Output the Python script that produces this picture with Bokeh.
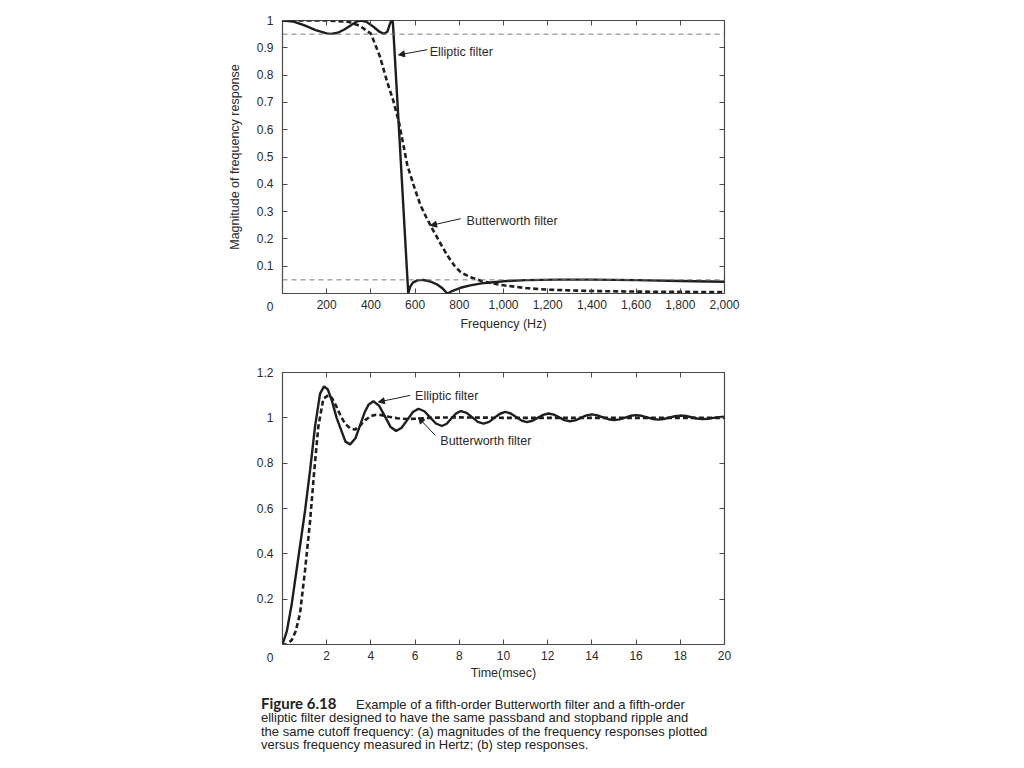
from bokeh.plotting import figure
from bokeh.models import (FixedTicker, NumeralTickFormatter, CustomJSTickFormatter, LinearAxis,
                          Span, Label, Arrow, NormalHead, Div, Range1d)
from bokeh.layouts import column
from bokeh.embed import file_html
from bokeh.resources import INLINE

# ---------------- data ----------------
# (a) magnitude of frequency response
freq_butter = [0, 100, 200, 300, 350, 400, 440, 474, 500, 527, 565, 600, 625, 650, 678, 710, 746,
               780, 806, 850, 900, 950, 1000, 1100, 1200, 1400, 1600, 1800, 2000]
mag_butter = [1.0, 1.0, 1.0, 0.995, 0.98, 0.952, 0.87, 0.774, 0.71, 0.627, 0.469, 0.38, 0.322, 0.28,
              0.237, 0.19, 0.139, 0.1, 0.078, 0.06, 0.046, 0.037, 0.03, 0.02, 0.014, 0.009, 0.007,
              0.006, 0.005]

freq_ellip = [0, 50, 100, 150, 200, 220, 250, 280, 310, 335, 355, 380, 410, 440, 460, 475, 485, 493,
              499, 530, 569, 578, 590, 610, 635, 665, 700, 725, 746, 770, 806, 850, 900, 1000, 1100,
              1250, 1400, 1600, 1800, 2000]
mag_ellip = [1.0, 0.996, 0.982, 0.965, 0.953, 0.951, 0.955, 0.967, 0.983, 0.996, 1.0, 0.995, 0.978,
             0.958, 0.951, 0.96, 0.985, 1.0, 1.0, 0.56, 0.0, 0.025, 0.04, 0.048, 0.05, 0.045, 0.033,
             0.018, 0.0, 0.01, 0.021, 0.03, 0.037, 0.045, 0.049, 0.051, 0.051, 0.049, 0.046, 0.043]

ripple_levels = [0.95, 0.05]

freq_ticks = [200, 400, 600, 800, 1000, 1200, 1400, 1600, 1800, 2000]
mag_ticks = [0, 0.1, 0.2, 0.3, 0.4, 0.5, 0.6, 0.7, 0.8, 0.9, 1]

# (b) step responses
t_ellip = [0, 0.2, 0.42, 0.72, 1.02, 1.25, 1.47, 1.7, 1.88, 2.05, 2.23, 2.45, 2.6, 2.85, 3.06, 3.3,
           3.51, 3.7, 3.89, 4.11, 4.37, 4.63, 4.88, 5.14, 5.39, 5.65, 5.9, 6.15, 6.42, 6.68, 6.94,
           7.21, 7.43, 7.64, 7.86, 8.07, 8.33, 8.59, 8.84, 9.1, 9.35, 9.59, 9.84, 10.08, 10.33,
           10.57, 10.82, 11.06, 11.31, 11.55, 11.8, 12.04, 12.28, 12.52, 12.76, 13.0, 13.25, 13.5,
           13.75, 14.0, 14.25, 14.5, 14.75, 15.0, 15.25, 15.5, 15.75, 16.0, 16.25, 16.5, 16.75,
           17.0, 17.25, 17.5, 17.75, 18.0, 18.25, 18.5, 18.75, 19.0, 19.25, 19.5, 19.75, 20.0]
step_ellip = [0, 0.06, 0.18, 0.385, 0.59, 0.77, 0.96, 1.107, 1.139, 1.125, 1.077, 1.0, 0.96, 0.895,
              0.883, 0.91, 0.967, 1.02, 1.058, 1.073, 1.054, 1.0075, 0.961, 0.942, 0.956, 0.991,
              1.026, 1.04, 1.029, 1.002, 0.975, 0.964, 0.974, 0.997, 1.02, 1.03, 1.022, 1.002,
              0.982, 0.974, 0.982, 1.0, 1.018, 1.026, 1.019, 1.0035, 0.988, 0.981, 0.987, 1.0,
              1.013, 1.019, 1.014, 1.002, 0.99, 0.985, 0.989, 1.0, 1.011, 1.015, 1.011, 1.0025,
              0.994, 0.99, 0.993, 1.001, 1.009, 1.012, 1.009, 1.002, 0.995, 0.992, 0.995, 1.001,
              1.007, 1.01, 1.008, 1.0025, 0.997, 0.995, 0.996, 1.0, 1.003, 1.005]

t_butter = [0, 0.2, 0.42, 0.6, 0.79, 1.02, 1.25, 1.44, 1.62, 1.85, 2.08, 2.25, 2.45, 2.65, 2.83,
            3.05, 3.28, 3.5, 3.74, 4.0, 4.19, 4.5, 4.8, 5.2, 5.6, 6.0, 6.5, 7.0, 8.0, 9.0, 10.0,
            12.0, 14.0, 16.0, 18.0, 20.0]
step_butter = [0, 0.0, 0.02, 0.06, 0.135, 0.327, 0.547, 0.77, 0.96, 1.085, 1.1, 1.085, 1.048,
               1.005, 0.974, 0.955, 0.948, 0.965, 0.99, 1.008, 1.013, 1.012, 1.005, 0.998, 0.995,
               0.996, 0.999, 1.001, 1.002, 1.001, 1.0, 1.0, 1.0, 1.0, 1.0, 1.0]

time_ticks = [2, 4, 6, 8, 10, 12, 14, 16, 18, 20]
step_ticks = [0, 0.2, 0.4, 0.6, 0.8, 1, 1.2]

# ---------------- styling ----------------
FONT = "Liberation Sans"
INK = "#1e1e1e"
FRAME = "#4a4a4a"
TXT = "#2a2a2a"
TICK_FS = "12px"
NOTE_FS = "12.5px"

# y labels: the shared origin "0" is set one line lower, in the row of the x labels
Y_FMT = "if (tick == 0) { return '\\n0'; } return String(tick);"


def style(p, xticks, yticks, xfmt, yfmt):
    bottom = p.below[0]
    left = p.left[0]
    p.xgrid.visible = False
    p.ygrid.visible = False
    p.outline_line_color = FRAME
    p.outline_line_width = 1.2
    above = LinearAxis()
    right = LinearAxis()
    p.add_layout(above, "above")
    p.add_layout(right, "right")
    for ax, ticks in ((bottom, xticks), (above, xticks), (left, yticks), (right, yticks)):
        ax.ticker = FixedTicker(ticks=ticks)
        ax.axis_line_color = None
        ax.major_tick_line_color = FRAME
        ax.major_tick_line_width = 1
        ax.major_tick_in = 5
        ax.major_tick_out = 0
        ax.minor_tick_line_color = None
        ax.major_label_text_font = FONT
        ax.major_label_text_font_size = TICK_FS
        ax.major_label_text_color = TXT
        ax.axis_label_text_font = FONT
        ax.axis_label_text_font_size = "12.5px"
        ax.axis_label_text_font_style = "normal"
        ax.axis_label_text_color = TXT
    for ax in (above, right):
        ax.major_label_text_color = None
    bottom.formatter = xfmt
    left.formatter = yfmt
    left.major_label_text_line_height = 1.9
    bottom.major_label_standoff = 6
    left.major_label_standoff = 9
    return bottom, left


def note(p, x, y, text):
    p.add_layout(Label(x=x, y=y, text=text, text_align="left", text_baseline="middle",
                       text_font=FONT, text_font_size=NOTE_FS, text_color=TXT))


def arrow(p, x0, y0, x1, y1):
    p.add_layout(Arrow(x_start=x0, y_start=y0, x_end=x1, y_end=y1, line_color=INK, line_width=1,
                       end=NormalHead(size=6, fill_color=INK, line_color=INK, line_width=1)))


# ---------------- (a) frequency response ----------------
p1 = figure(frame_width=442, frame_height=273, x_range=Range1d(0, 2000), y_range=Range1d(0, 1),
            min_border_left=282, min_border_right=40, min_border_top=20, min_border_bottom=50,
            output_backend="svg", toolbar_location=None, background_fill_color="white",
            border_fill_color="white")
bx1, ly1 = style(p1, freq_ticks, mag_ticks, NumeralTickFormatter(format="0,0"),
                 CustomJSTickFormatter(code=Y_FMT))
bx1.axis_label = "Frequency (Hz)"
bx1.axis_label_standoff = 5
ly1.axis_label = "Magnitude of frequency response"
ly1.axis_label_standoff = 12

for lvl in ripple_levels:
    p1.add_layout(Span(location=lvl, dimension="width", line_color="#7a7a7a", line_width=1,
                       line_dash="5 4"))

p1.line(freq_butter, mag_butter, line_color=INK, line_width=2.6, line_dash="5 3")
p1.line(freq_ellip, mag_ellip, line_color=INK, line_width=2.4)

note(p1, 666, 0.883, "Elliptic filter")
note(p1, 833, 0.264, "Butterworth filter")
arrow(p1, 655, 0.893, 525, 0.874)
arrow(p1, 806, 0.274, 670, 0.249)

# ---------------- (b) step responses ----------------
p2 = figure(frame_width=442, frame_height=272, x_range=Range1d(0, 20), y_range=Range1d(0, 1.2),
            min_border_left=282, min_border_right=40, min_border_top=29, min_border_bottom=36,
            output_backend="svg", toolbar_location=None, background_fill_color="white",
            border_fill_color="white")
bx2, ly2 = style(p2, time_ticks, step_ticks, CustomJSTickFormatter(code="return String(tick);"),
                 CustomJSTickFormatter(code=Y_FMT))
bx2.axis_label = "Time(msec)"
bx2.axis_label_standoff = 3

p2.line(t_butter, step_butter, line_color=INK, line_width=2.6, line_dash="5 3")
p2.line(t_ellip, step_ellip, line_color=INK, line_width=2.4)

note(p2, 6.0, 1.095, "Elliptic filter")
note(p2, 7.14, 0.898, "Butterworth filter")
arrow(p2, 5.78, 1.099, 4.34, 1.07)
arrow(p2, 6.91, 0.923, 6.15, 1.001)

# ---------------- caption ----------------
caption = Div(
    text=(
        '<div style="margin-left:261px;margin-top:15px;font-family:\'Liberation Sans\',Arial,sans-serif;'
        'font-size:13px;line-height:13.4px;color:#222;white-space:nowrap;">'
        '<span style="display:inline-block;width:95px;font-family:Lato,sans-serif;font-weight:700;'
        'font-size:15px;">Figure 6.18</span>'
        'Example of a fifth-order Butterworth filter and a fifth-order<br>'
        'elliptic filter designed to have the same passband and stopband ripple and<br>'
        'the same cutoff frequency: (a) magnitudes of the frequency responses plotted<br>'
        'versus frequency measured in Hertz; (b) step responses.'
        '</div>'
    ),
    width=760, height=76, margin=(0, 0, 0, 0))

layout = column(p1, p2, caption, spacing=0)

with open("out.html", "w") as f:
    f.write(file_html(layout, INLINE))
